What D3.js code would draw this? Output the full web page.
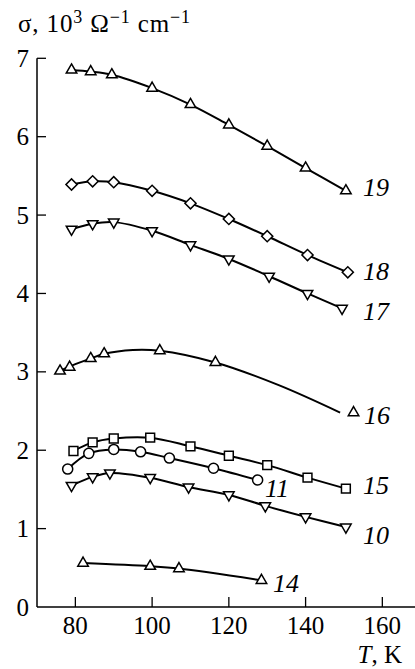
<!DOCTYPE html>
<html>
<head>
<meta charset="utf-8">
<script src="https://cdn.jsdelivr.net/npm/d3@7"></script>
<style>
html,body{margin:0;padding:0;background:#fff;}
svg{display:block;font-family:"Liberation Serif","Times New Roman",serif;}
</style>
</head>
<body>
<svg id="chart" width="415" height="669"></svg>
<script>
// ---- data ----
const xTicks = [80, 100, 120, 140, 160];
const yTicks = [0, 1, 2, 3, 4, 5, 6, 7];

const s19T = [79, 84, 89.5, 100, 110, 120, 130, 140, 150.5];
const s19V = [6.85, 6.83, 6.79, 6.62, 6.41, 6.15, 5.88, 5.60, 5.31];

const s18T = [79, 84.5, 90, 100, 110, 120, 130, 140.5, 151];
const s18V = [5.39, 5.43, 5.42, 5.31, 5.15, 4.95, 4.73, 4.49, 4.27];

const s17T = [79, 84.5, 90, 100, 110, 120, 130.5, 140.5, 149.5];
const s17V = [4.82, 4.89, 4.91, 4.80, 4.62, 4.44, 4.22, 4.00, 3.81];

const s16T = [76, 78.5, 84, 87.5, 102, 116.5, 152.5];
const s16V = [3.01, 3.06, 3.17, 3.23, 3.27, 3.12, 2.48];
// fitted curve of series 16 (line only)
const s16CurveT = [76, 78.5, 84, 87.5, 95, 102, 116.5, 133, 149];
const s16CurveV = [3.01, 3.07, 3.17, 3.23, 3.28, 3.27, 3.12, 2.83, 2.48];

const s15T = [79.5, 84.5, 90, 99.5, 110, 120, 130, 140.5, 150.5];
const s15V = [1.99, 2.10, 2.15, 2.16, 2.05, 1.93, 1.81, 1.65, 1.51];

const s11T = [78, 83.5, 90, 97, 104.5, 116, 127.5];
const s11V = [1.76, 1.96, 2.01, 1.98, 1.90, 1.77, 1.62];

const s10T = [79, 84.5, 89, 99.5, 109.5, 120, 129.5, 140, 150.5];
const s10V = [1.55, 1.66, 1.71, 1.65, 1.53, 1.43, 1.29, 1.15, 1.02];

const s14T = [82, 99.5, 107, 128.5];
const s14V = [0.56, 0.52, 0.49, 0.34];

const seriesLabels = ["19", "18", "17", "16", "15", "11", "10", "14"];

// ---- build ----
const svg = d3.select("#chart");
const x = d3.scaleLinear().domain([70, 170]).range([37, 420.7]);
const y = d3.scaleLinear().domain([0, 7]).range([607, 58.3]);

const zip = (T, V) => T.map((t, i) => ({t, v: V[i]}));

const series = [
  {name: seriesLabels[0], pts: zip(s19T, s19V), curve: zip(s19T, s19V), shape: "up", lab: [363, 196]},
  {name: seriesLabels[1], pts: zip(s18T, s18V), curve: zip(s18T, s18V), shape: "diamond", lab: [363, 280]},
  {name: seriesLabels[2], pts: zip(s17T, s17V), curve: zip(s17T, s17V), shape: "down", lab: [363, 320]},
  {name: seriesLabels[3], pts: zip(s16T, s16V), curve: zip(s16CurveT, s16CurveV), shape: "up", lab: [364, 424]},
  {name: seriesLabels[4], pts: zip(s15T, s15V), curve: zip(s15T, s15V), shape: "square", lab: [363, 494]},
  {name: seriesLabels[5], pts: zip(s11T, s11V), curve: zip(s11T, s11V), shape: "circle", lab: [265, 497]},
  {name: seriesLabels[6], pts: zip(s10T, s10V), curve: zip(s10T, s10V), shape: "down", lab: [363, 544]},
  {name: seriesLabels[7], pts: zip(s14T, s14V), curve: zip(s14T, s14V), shape: "up", lab: [273, 592]}
];

// axes
const axisG = svg.append("g");
axisG.append("line").attr("x1", x(70)).attr("x2", 415).attr("y1", y(0)).attr("y2", y(0))
  .attr("stroke", "#000").attr("stroke-width", 1.5);
axisG.append("line").attr("x1", x(70)).attr("x2", x(70)).attr("y1", y(0)).attr("y2", y(7))
  .attr("stroke", "#000").attr("stroke-width", 1.5);

xTicks.forEach(t => {
  axisG.append("line").attr("x1", x(t)).attr("x2", x(t)).attr("y1", y(0)).attr("y2", y(0) - 10)
    .attr("stroke", "#000").attr("stroke-width", 1.3);
  axisG.append("text").attr("x", x(t)).attr("y", 634).attr("text-anchor", "middle")
    .attr("font-size", 25).text(t);
});
yTicks.forEach(v => {
  if (v > 0) {
    axisG.append("line").attr("x1", x(70)).attr("x2", x(70) + 9).attr("y1", y(v)).attr("y2", y(v))
      .attr("stroke", "#000").attr("stroke-width", 1.3);
  }
  axisG.append("text").attr("x", 29).attr("y", y(v)).attr("dy", "0.34em").attr("text-anchor", "end")
    .attr("font-size", 25).text(v);
});

// axis titles
const yt = svg.append("text").attr("x", 18).attr("y", 32).attr("font-size", 25)
  .attr("textLength", 172).attr("lengthAdjust", "spacing");
yt.append("tspan").text("σ, 10");
yt.append("tspan").attr("font-size", 18).attr("dy", -9).text("3");
yt.append("tspan").attr("dy", 9).text(" Ω");
yt.append("tspan").attr("font-size", 18).attr("dy", -9).text("−1");
yt.append("tspan").attr("dy", 9).text(" cm");
yt.append("tspan").attr("font-size", 18).attr("dy", -9).text("−1");

const xt = svg.append("text").attr("x", 402).attr("y", 663).attr("text-anchor", "end").attr("font-size", 25);
xt.append("tspan").attr("font-style", "italic").text("T");
xt.append("tspan").text(", K");

// curves
const line = d3.line().x(d => x(d.t)).y(d => y(d.v)).curve(d3.curveCatmullRom.alpha(0.5));
const symGen = {
  up: d3.symbol().type(d3.symbolTriangle).size(48),
  down: d3.symbol().type(d3.symbolTriangle).size(48),
  square: d3.symbol().type(d3.symbolSquare).size(78),
  circle: d3.symbol().type(d3.symbolCircle).size(80),
  diamond: d3.symbol().type(d3.symbolSquare).size(62)
};
const rot = {up: 0, down: 180, square: 0, circle: 0, diamond: 45};

series.forEach(s => {
  const g = svg.append("g");
  g.append("path").attr("d", line(s.curve)).attr("fill", "none")
    .attr("stroke", "#000").attr("stroke-width", 2);
  g.selectAll("path.m").data(s.pts).enter().append("path").attr("class", "m")
    .attr("d", symGen[s.shape]())
    .attr("transform", d => `translate(${x(d.t)},${y(d.v)}) rotate(${rot[s.shape]})`)
    .attr("fill", "#fff").attr("stroke", "#000").attr("stroke-width", 1.5);
  g.append("text").attr("x", s.lab[0]).attr("y", s.lab[1]).attr("font-size", 26)
    .attr("font-style", "italic").text(s.name);
});
</script>
</body>
</html>
